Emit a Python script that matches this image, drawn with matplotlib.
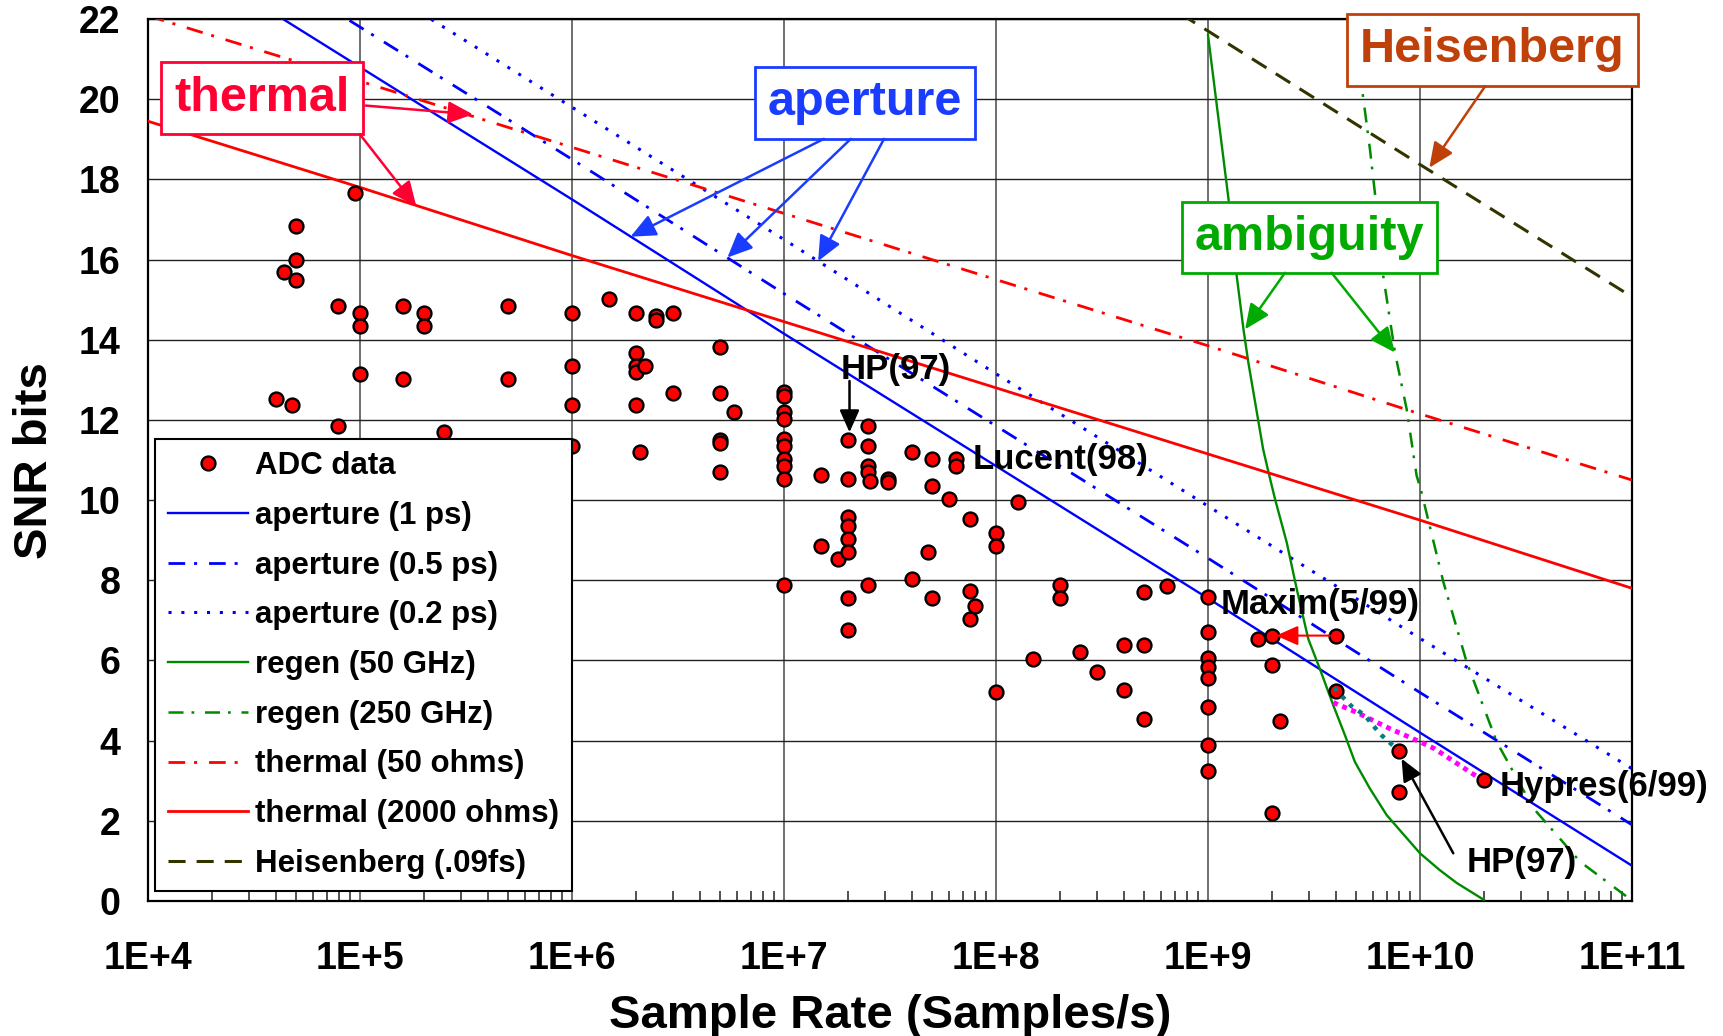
import numpy as np
import matplotlib
matplotlib.use("Agg")
import matplotlib.pyplot as plt
from matplotlib.ticker import LogLocator, NullFormatter

plt.rcParams['font.family'] = ['Liberation Sans', 'DejaVu Sans']
plt.rcParams['font.weight'] = 'bold'

# ---- measured ADC data points (sample rate, SNR bits) ----
adc_rate = [4e4, 4.4e4, 4.8e4, 5e4, 5e4, 5e4, 7.9e4, 7.9e4, 9.5e4,
            1e5, 1e5, 1e5, 1.6e5, 1.6e5, 2e5, 2e5, 2.5e5, 5e5, 5e5,
            1e6, 1e6, 1e6, 1e6, 1.5e6, 2e6, 2e6, 2e6, 2e6, 2e6, 2.1e6, 2.2e6,
            2.5e6, 2.5e6, 3e6, 3e6, 5e6, 5e6, 5e6, 5e6, 5e6, 5.8e6,
            1e7, 1e7, 1e7, 1e7, 1e7, 1e7, 1e7, 1e7, 1e7, 1e7,
            1.5e7, 1.5e7, 1.8e7,
            2e7, 2e7, 2e7, 2e7, 2e7, 2e7, 2e7, 2e7,
            2.5e7, 2.5e7, 2.5e7, 2.5e7, 2.5e7, 2.55e7, 3.1e7, 3.1e7,
            4e7, 4e7, 4.8e7, 5e7, 5e7, 5e7, 6e7, 6.5e7, 6.5e7,
            7.5e7, 7.5e7, 7.5e7, 8e7, 1e8, 1e8, 1e8, 1.27e8, 1.5e8,
            2e8, 2e8, 2.5e8, 3e8, 4e8, 4e8, 5e8, 5e8, 5e8, 6.4e8,
            1e9, 1e9, 1e9, 1e9, 1e9, 1e9, 1e9, 1e9,
            1.73e9, 2e9, 2e9, 2e9, 2.18e9, 4e9, 4e9, 8e9, 8e9, 2e10]
adc_snr = [12.52, 15.68, 12.36, 16.83, 16.0, 15.49, 14.85, 11.86, 17.67,
           14.67, 14.34, 13.15, 14.85, 13.02, 14.67, 14.34, 11.69, 14.85, 13.02,
           14.67, 13.35, 12.36, 11.36, 15.02, 14.67, 13.68, 13.35, 13.19, 12.36, 11.19, 13.35,
           14.6, 14.5, 14.67, 12.67, 13.83, 12.67, 11.5, 11.42, 10.71, 12.19,
           12.69, 12.6, 12.19, 12.02, 11.52, 11.35, 11.02, 10.85, 10.52, 7.88,
           10.62, 8.86, 8.53,
           11.5, 10.52, 9.57, 9.36, 9.03, 8.70, 7.55, 6.75,
           11.86, 11.35, 10.85, 10.7, 7.88, 10.48, 10.52, 10.46,
           11.19, 8.03, 8.70, 11.02, 10.36, 7.55, 10.02, 11.02, 10.85,
           9.54, 7.72, 7.04, 7.37, 9.19, 8.86, 5.21, 9.94, 6.04,
           7.88, 7.55, 6.21, 5.71, 6.39, 5.27, 7.70, 6.39, 4.55, 7.85,
           7.58, 6.71, 6.06, 5.83, 5.56, 4.83, 3.88, 3.24,
           6.54, 6.6, 5.89, 2.2, 4.5, 6.61, 5.23, 3.73, 2.73, 3.02]

# ---- theoretical limit curves ----
decades = [1e4, 1e5, 1e6, 1e7, 1e8, 1e9, 1e10, 1e11]
aperture_1ps = [24.1, 20.8, 17.5, 14.15, 10.85, 7.55, 4.2, 0.88]
aperture_05ps = [25.1, 21.8, 18.5, 15.15, 11.85, 8.55, 5.2, 1.9]
aperture_02ps = [26.4, 23.1, 19.8, 16.5, 13.15, 9.85, 6.55, 3.3]
thermal_50 = [22.08, 20.45, 18.8, 17.15, 15.5, 13.85, 12.15, 10.5]
thermal_2000 = [19.45, 17.8, 16.1, 14.45, 12.8, 11.15, 9.5, 7.8]

regen50_rate = [1.0e9, 1.25e9, 1.36e9, 1.47e9, 1.55e9, 1.82e9, 1.93e9, 2.07e9,
                2.35e9, 2.62e9, 2.97e9, 3.37e9, 3.90e9, 4.43e9, 4.93e9, 5.81e9,
                6.97e9, 1.0e10, 1.24e10, 1.49e10, 2.0e10]
regen50_snr = [21.6, 17.5, 15.67, 14.26, 13.43, 11.27, 10.69, 10.03,
               8.95, 7.79, 6.54, 5.79, 4.88, 4.13, 3.47, 2.80,
               2.14, 1.19, 0.77, 0.45, 0.03]
regen250_rate = [5.0e9, 5.31e9, 5.81e9, 6.14e9, 6.71e9, 7.62e9, 8.65e9, 9.64e9,
                 1.007e10, 1.29e10, 1.66e10, 2.30e10, 3.43e10, 5.69e10, 9.44e10, 1e11]
regen250_snr = [21.6, 20.32, 18.74, 17.62, 15.59, 13.68, 12.27, 10.61,
                10.28, 7.95, 5.96, 3.97, 2.31, 0.98, 0.11, 0.03]

heis_rate = [1e8, 1e9, 1e10, 1e11]
heis_snr = [25.0, 21.7, 18.37, 15.07]

magenta_rate = [3.9e9, 5.0e9, 7.2e9, 1.0e10, 1.17e10, 1.86e10]
magenta_snr = [4.95, 4.71, 4.30, 3.97, 3.80, 3.10]
teal_rate = [3.95e9, 4.35e9, 4.75e9, 5.5e9, 6.0e9, 6.6e9, 7.2e9, 7.9e9]
teal_snr = [5.32, 5.07, 4.86, 4.63, 4.38, 4.13, 3.95, 3.76]

xtick_labels = ["1E+4", "1E+5", "1E+6", "1E+7", "1E+8", "1E+9", "1E+10", "1E+11"]
yticks = list(range(0, 23, 2))

fig = plt.figure(figsize=(17.23, 10.36), dpi=100)
ax = fig.add_axes([148/1723, 1 - 901/1036, 1484/1723, 882/1036])
ax.set_xscale('log')

blue = '#0000ff'
red = '#ff0000'
green = '#008a00'
dashdot = (0, (6, 3.2, 1.1, 4.3))

ax.plot(adc_rate, adc_snr, 'o', color='#ff0000', mec='black', mew=1.7, ms=10,
        label='ADC data', zorder=6)
ax.plot(decades, aperture_1ps, color=blue, lw=1.7, label='aperture (1 ps)', zorder=3)
ax.plot(decades, aperture_05ps, color=blue, lw=2, ls=dashdot, label='aperture (0.5 ps)', zorder=3)
ax.plot(decades, aperture_02ps, color=blue, lw=2.2, ls=(0, (1, 3.2)), label='aperture (0.2 ps)', zorder=3)
ax.plot(regen50_rate, regen50_snr, color=green, lw=1.7, label='regen (50 GHz)', zorder=3)
ax.plot(regen250_rate, regen250_snr, color=green, lw=1.8, ls=dashdot, label='regen (250 GHz)', zorder=3)
ax.plot(decades, thermal_50, color=red, lw=2, ls=dashdot, label='thermal (50 ohms)', zorder=3)
ax.plot(decades, thermal_2000, color=red, lw=2, label='thermal (2000 ohms)', zorder=3)
ax.plot(heis_rate, heis_snr, color='#333300', lw=2.2, ls=(0, (5.6, 3.6)),
        label='Heisenberg (.09fs)', zorder=3)
ax.plot(magenta_rate, magenta_snr, color='#ff00ff', lw=3.5, ls=(0, (1, 1)), zorder=7)
ax.plot(teal_rate, teal_snr, color='#008080', lw=3.2, ls=(0, (1, 1.5)), zorder=7)

ax.set_xlim(1e4, 1e11)
ax.set_ylim(0, 22)
ax.set_xticks(decades, xtick_labels)
ax.set_yticks(yticks)
ax.xaxis.set_minor_locator(LogLocator(base=10, subs=range(2, 10)))
ax.xaxis.set_minor_formatter(NullFormatter())
ax.tick_params(axis='x', which='major', direction='in', length=0, pad=29, labelsize=27)
ax.tick_params(axis='x', which='minor', direction='in', length=7, width=1.2, color='#333333')
ax.tick_params(axis='y', which='major', direction='in', length=0, pad=20, labelsize=27)
for lab in ax.get_xticklabels() + ax.get_yticklabels():
    lab.set_fontweight('bold')
ax.grid(True, axis='x', which='major', color='#555555', lw=1.2)
ax.grid(True, axis='y', which='major', color='#222222', lw=1.0)
ax.set_axisbelow(True)
for sp in ax.spines.values():
    sp.set_linewidth(1.6)
    sp.set_color('black')

fig.text(890/1723, 1 - 1016/1036, 'Sample Rate (Samples/s)', ha='center', va='center',
         fontsize=34, fontweight='bold')
fig.text(35/1723, 1 - 461/1036, 'SNR bits', ha='center', va='center', rotation=90,
         fontsize=34, fontweight='bold')

leg = ax.legend(loc='upper left', bbox_to_anchor=(0.005, 0.524), borderaxespad=0,
                handlelength=2.55, handletextpad=0.25, labelspacing=0.63,
                borderpad=0.4, fancybox=False, framealpha=1, edgecolor='black',
                numpoints=1, prop={'weight': 'bold', 'size': 22.5})
leg.get_frame().set_linewidth(1.5)
leg.set_zorder(10)

# ---- boxed category labels ----
def boxed(x, y, txt, col):
    ax.text(x, y, txt, transform=ax.transAxes, ha='center', va='center', fontsize=35,
            fontweight='bold', color=col, zorder=8,
            bbox=dict(boxstyle='square,pad=0.27', fc='white', ec=col, lw=2))

boxed(0.0768, 0.9104, 'thermal', '#ff0033')
boxed(0.4832, 0.9048, 'aperture', '#1a3cff')
boxed(0.7827, 0.7523, 'ambiguity', '#00aa00')
boxed(0.9060, 0.9649, 'Heisenberg', '#c0400a')

def arrow(x0, y0, x1, y1, col, ms=34, lw=1.8):
    ax.annotate('', xy=(x1, y1), xytext=(x0, y0),
                arrowprops=dict(arrowstyle='-|>,head_length=0.45,head_width=0.2', color=col,
                                lw=lw, mutation_scale=ms, shrinkA=0, shrinkB=0), zorder=9)

arrow(10**5.027, 19.84, 10**5.533, 19.62, '#ff0033')
arrow(10**5.0, 19.12, 10**5.266, 17.32, '#ff0033')
arrow(10**7.188, 19.01, 10**6.276, 16.57, '#1a3cff')
arrow(10**7.315, 19.01, 10**6.733, 16.05, '#1a3cff')
arrow(10**7.472, 19.01, 10**7.161, 15.96, '#1a3cff')
arrow(10**9.363, 15.67, 10**9.175, 14.26, '#00aa00')
arrow(10**9.583, 15.67, 10**9.882, 13.68, '#00aa00')
arrow(10**10.307, 20.32, 10**10.044, 18.29, '#c0400a')
arrow(10**7.309, 12.97, 10**7.309, 11.69, 'black', ms=30)
arrow(10**10.157, 1.19, 10**9.913, 3.55, 'black', ms=30)
arrow(10**9.575, 6.62, 10**9.321, 6.62, '#ff0000', ms=30, lw=1.5)

# ---- device labels ----
for x, y, txt in [(10**7.269, 13.25, 'HP(97)'), (10**7.889, 11.0, 'Lucent(98)'),
                  (10**9.06, 7.4, 'Maxim(5/99)'), (10**10.377, 2.85, 'Hypres(6/99)'),
                  (10**10.222, 0.95, 'HP(97)')]:
    ax.text(x, y, txt, ha='left', va='center', fontsize=25, fontweight='bold',
            color='black', zorder=9, clip_on=False)

fig.savefig('out.png', dpi=100)
